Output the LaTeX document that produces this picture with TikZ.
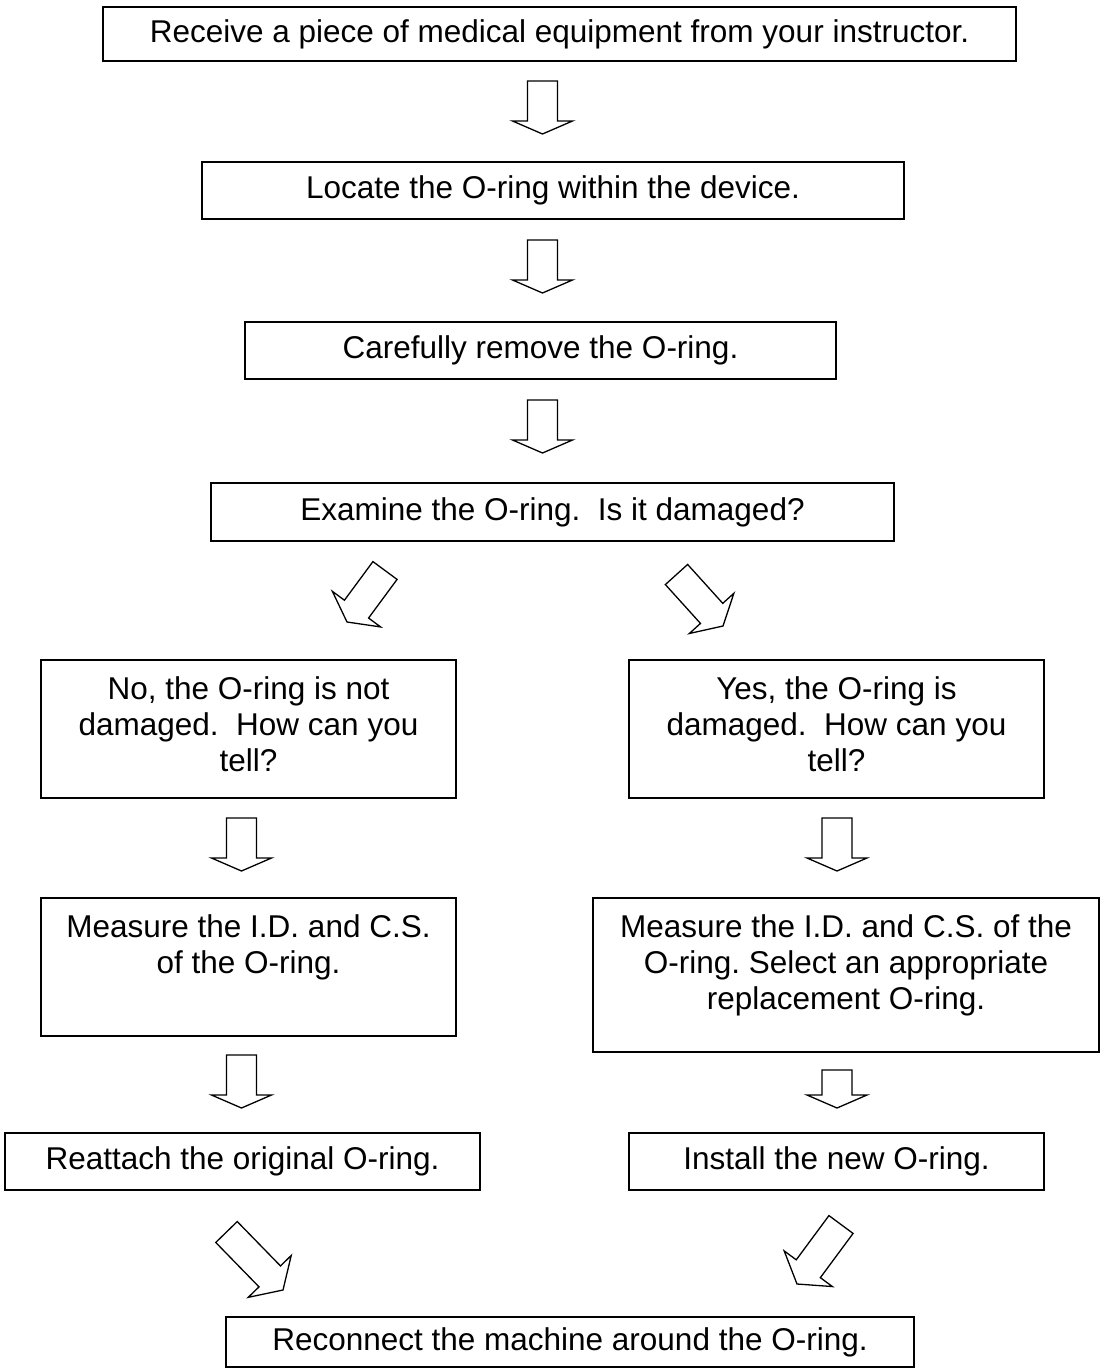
\documentclass[tikz,border=0pt]{standalone}
\usepackage{fontspec}
\setmainfont{Liberation Sans}
\usetikzlibrary{calc}
\newcommand\fs{\fontsize{31.5}{36}\selectfont\frenchspacing}
\newcommand\blockarrow[3]{%
  \coordinate (ba-h) at ($(#2)!#3!(#1)$);
  \draw[blockarr] ($(#1)!15pt!90:(#2)$) -- ($(ba-h)!15pt!90:(#2)$) -- ($(ba-h)!30pt!90:(#2)$) -- (#2)
    -- ($(ba-h)!30pt!-90:(#2)$) -- ($(ba-h)!15pt!-90:(#2)$) -- ($(#1)!15pt!-90:(#2)$) -- cycle;}
\tikzset{
  box/.style={draw, line width=1.4pt, inner sep=0pt, font=\fs, align=center},
  blockarr/.style={draw, line width=1.3pt, line join=miter, fill=white},
}
\begin{document}
\begin{tikzpicture}[x=1pt,y=-1pt]
\useasboundingbox (0,0) rectangle (1102,1371);
% boxes
\node[box, minimum width=913, minimum height=54] (b1) at (559.5,34) {Receive a piece of medical equipment from your instructor.};
\node[box, minimum width=702, minimum height=57] (b2) at (553,190.5) {Locate the O-ring within the device.};
\node[box, minimum width=591, minimum height=57] (b3) at (540.5,350.5) {Carefully remove the O-ring.};
\node[box, minimum width=683, minimum height=58] (b4) at (552.5,512) {Examine the O-ring.\ \ Is it damaged?};
\node[box, minimum width=415, minimum height=138] (b5) at (248.5,729) {\parbox[c][104pt][t]{405pt}{\centering No, the O-ring is not\\ damaged.\ \ How can you\\ tell?}};
\node[box, minimum width=415, minimum height=138] (b6) at (836.5,729) {\parbox[c][104pt][t]{405pt}{\centering Yes, the O-ring is\\ damaged.\ \ How can you\\ tell?}};
\node[box, minimum width=415, minimum height=138] (b7) at (248.5,967) {\parbox[c][104pt][t]{405pt}{\centering Measure the I.D. and C.S.\\ of the O-ring.}};
\node[box, minimum width=506, minimum height=154] (b8) at (846,975) {\parbox[c][120pt][t]{496pt}{\centering Measure the I.D. and C.S. of the\\ O-ring. Select an appropriate\\ replacement O-ring.}};
\node[box, minimum width=475, minimum height=57] (b9) at (242.5,1161.5) {Reattach the original O-ring.};
\node[box, minimum width=415, minimum height=57] (b10) at (836.5,1161.5) {Install the new O-ring.};
\node[box, minimum width=688, minimum height=50] (b11) at (570,1342) {Reconnect the machine around the O-ring.};
% arrow end points
\coordinate (a1s) at (542.5,81);   \coordinate (a1e) at (542.5,134);
\coordinate (a2s) at (542.5,240);  \coordinate (a2e) at (542.5,293);
\coordinate (a3s) at (542.5,400);  \coordinate (a3e) at (542.5,453);
\coordinate (d1s) at (385,570.5);  \coordinate (d1e) at (347,622);
\coordinate (d2s) at (676.5,574.5);\coordinate (d2e) at (723,626);
\coordinate (a4s) at (241.5,818);  \coordinate (a4e) at (241.5,871);
\coordinate (a5s) at (837,818);    \coordinate (a5e) at (837,871);
\coordinate (a6s) at (241.5,1055); \coordinate (a6e) at (241.5,1108);
\coordinate (a7s) at (837,1070);   \coordinate (a7e) at (837,1108);
\coordinate (d3s) at (226.5,1232); \coordinate (d3e) at (283,1290);
\coordinate (d4s) at (841,1224.5); \coordinate (d4e) at (797,1284);
% block arrows
\blockarrow{a1s}{a1e}{13pt}
\blockarrow{a2s}{a2e}{13pt}
\blockarrow{a3s}{a3e}{13pt}
\blockarrow{d1s}{d1e}{16pt}
\blockarrow{d2s}{d2e}{17pt}
\blockarrow{a4s}{a4e}{13pt}
\blockarrow{a5s}{a5e}{13pt}
\blockarrow{a6s}{a6e}{13pt}
\blockarrow{a7s}{a7e}{13pt}
\blockarrow{d3s}{d3e}{19pt}
\blockarrow{d4s}{d4e}{19pt}
\end{tikzpicture}
\end{document}
